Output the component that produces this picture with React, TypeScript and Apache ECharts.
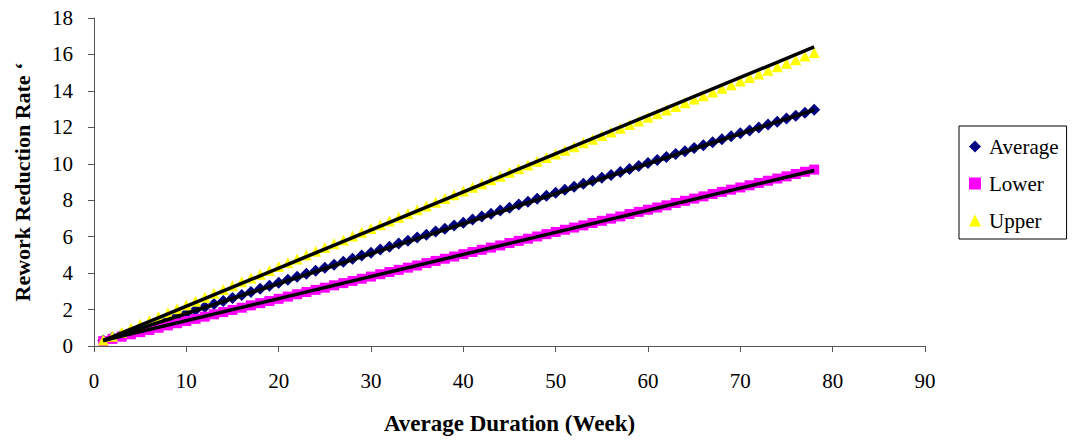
import React, { useEffect, useRef } from "react";
import * as echarts from "echarts";

const weeks = [
  1, 2, 3, 4, 5, 6, 7, 8, 9, 10, 11, 12, 13, 14, 15, 16, 17, 18, 19, 20,
  21, 22, 23, 24, 25, 26, 27, 28, 29, 30, 31, 32, 33, 34, 35, 36, 37, 38, 39, 40,
  41, 42, 43, 44, 45, 46, 47, 48, 49, 50, 51, 52, 53, 54, 55, 56, 57, 58, 59, 60,
  61, 62, 63, 64, 65, 66, 67, 68, 69, 70, 71, 72, 73, 74, 75, 76, 77, 78,
];

const average = [
  0.3, 0.47, 0.63, 0.8, 0.97, 1.14, 1.3, 1.47, 1.64, 1.8, 1.97, 2.14, 2.3, 2.47, 2.64, 2.8, 2.97, 3.14, 3.3, 3.47,
  3.63, 3.8, 3.97, 4.13, 4.3, 4.46, 4.63, 4.79, 4.96, 5.12, 5.29, 5.45, 5.62, 5.78, 5.95, 6.11, 6.28, 6.44, 6.61, 6.77,
  6.94, 7.1, 7.26, 7.43, 7.59, 7.76, 7.92, 8.08, 8.25, 8.41, 8.58, 8.74, 8.9, 9.07, 9.23, 9.39, 9.55, 9.72, 9.88, 10.04,
  10.21, 10.37, 10.53, 10.69, 10.86, 11.02, 11.18, 11.34, 11.51, 11.67, 11.83, 11.99, 12.15, 12.31, 12.48, 12.64, 12.8, 12.96,
];

const lower = [
  0.27, 0.39, 0.51, 0.64, 0.76, 0.88, 1.0, 1.13, 1.25, 1.37, 1.49, 1.61, 1.74, 1.86, 1.98, 2.1, 2.23, 2.35, 2.47, 2.59,
  2.71, 2.84, 2.96, 3.08, 3.2, 3.33, 3.45, 3.57, 3.69, 3.81, 3.94, 4.06, 4.18, 4.3, 4.42, 4.55, 4.67, 4.79, 4.91, 5.04,
  5.16, 5.28, 5.4, 5.52, 5.65, 5.77, 5.89, 6.01, 6.14, 6.26, 6.38, 6.5, 6.62, 6.75, 6.87, 6.99, 7.11, 7.24, 7.36, 7.48,
  7.6, 7.72, 7.85, 7.97, 8.09, 8.21, 8.34, 8.46, 8.58, 8.7, 8.82, 8.95, 9.07, 9.19, 9.31, 9.44, 9.56, 9.68,
];

const upper = [
  0.33, 0.54, 0.76, 0.97, 1.19, 1.4, 1.61, 1.83, 2.04, 2.25, 2.46, 2.67, 2.89, 3.1, 3.31, 3.52, 3.73, 3.94, 4.15, 4.36,
  4.57, 4.78, 4.99, 5.2, 5.41, 5.61, 5.82, 6.03, 6.24, 6.45, 6.65, 6.86, 7.07, 7.27, 7.48, 7.68, 7.89, 8.1, 8.3, 8.51,
  8.71, 8.91, 9.12, 9.32, 9.53, 9.73, 9.93, 10.14, 10.34, 10.54, 10.74, 10.94, 11.15, 11.35, 11.55, 11.75, 11.95, 12.15, 12.35, 12.55,
  12.75, 12.95, 13.15, 13.35, 13.55, 13.74, 13.94, 14.14, 14.34, 14.54, 14.73, 14.93, 15.13, 15.32, 15.52, 15.71, 15.91, 16.11,
];

const trendWeeks = [1, 78];
const averageTrend = [0.3, 12.96];
const lowerTrend = [0.3, 9.63];
const upperTrend = [0.3, 16.41];

const seriesNames = ["Average", "Lower", "Upper"];

const pairs = (xs: number[], ys: number[]) => xs.map((x, i) => [x, ys[i]]);

const FONT = "'Liberation Serif', 'Times New Roman', serif";

export default function App() {
  const ref = useRef<HTMLDivElement>(null);

  useEffect(() => {
    if (!ref.current) return;
    const chart = echarts.init(ref.current, undefined, { renderer: "svg" });
    const axisColor = "#555555";
    chart.setOption({
      animation: false,
      backgroundColor: "#ffffff",
      textStyle: { fontFamily: FONT },
      grid: { left: 94, right: 156, top: 18, bottom: 93, containLabel: false },
      legend: {
        orient: "vertical",
        left: 959,
        top: 126,
        data: [
          { name: seriesNames[0], icon: "diamond", itemStyle: { color: "#000080" } },
          { name: seriesNames[1], icon: "rect", itemStyle: { color: "#ff00ff" } },
          { name: seriesNames[2], icon: "triangle", itemStyle: { color: "#ffff00" } },
        ],
        itemWidth: 12,
        itemHeight: 12,
        itemGap: 16,
        padding: [10, 8, 8, 10],
        borderColor: "#000000",
        borderWidth: 1,
        textStyle: { fontFamily: FONT, fontSize: 21, color: "#000000", padding: [0, 0, 0, 3] },
      },
      xAxis: {
        type: "value",
        min: 0,
        max: 90,
        interval: 10,
        name: "Average Duration (Week)",
        nameLocation: "middle",
        nameGap: 66,
        nameTextStyle: { fontFamily: FONT, fontSize: 23, fontWeight: "bold", color: "#000000" },
        axisLine: { show: true, onZero: false, lineStyle: { color: axisColor, width: 1 } },
        axisTick: { show: true, inside: false, length: 6, lineStyle: { color: axisColor } },
        axisLabel: { fontFamily: FONT, fontSize: 21, color: "#000000", margin: 24 },
        splitLine: { show: false },
      },
      yAxis: {
        type: "value",
        min: 0,
        max: 18,
        interval: 2,
        name: "Rework Reduction Rate \u2018",
        nameLocation: "middle",
        nameGap: 61,
        nameRotate: 90,
        nameTextStyle: { fontFamily: FONT, fontSize: 22, fontWeight: "bold", color: "#000000" },
        axisLine: { show: true, lineStyle: { color: axisColor, width: 1 } },
        axisTick: { show: true, inside: false, length: 6, lineStyle: { color: axisColor } },
        axisLabel: { fontFamily: FONT, fontSize: 21, color: "#000000", margin: 21 },
        splitLine: { show: false },
      },
      series: [
        {
          name: seriesNames[0],
          type: "scatter",
          symbol: "diamond",
          symbolSize: 12,
          itemStyle: { color: "#000080", opacity: 1 },
          data: pairs(weeks, average),
          z: 2,
        },
        {
          name: seriesNames[1],
          type: "scatter",
          symbol: "rect",
          symbolSize: 10,
          itemStyle: { color: "#ff00ff", opacity: 1 },
          data: pairs(weeks, lower),
          z: 2,
        },
        {
          name: seriesNames[2],
          type: "scatter",
          symbol: "triangle",
          symbolSize: 11,
          itemStyle: { color: "#ffff00", opacity: 1 },
          data: pairs(weeks, upper),
          z: 2,
        },
        {
          name: "Average trend",
          type: "line",
          data: pairs(trendWeeks, averageTrend),
          showSymbol: false,
          symbol: "none",
          lineStyle: { color: "#000000", width: 3.5 },
          z: 3,
        },
        {
          name: "Lower trend",
          type: "line",
          data: pairs(trendWeeks, lowerTrend),
          showSymbol: false,
          symbol: "none",
          lineStyle: { color: "#000000", width: 3.5 },
          z: 3,
        },
        {
          name: "Upper trend",
          type: "line",
          data: pairs(trendWeeks, upperTrend),
          showSymbol: false,
          symbol: "none",
          lineStyle: { color: "#000000", width: 3.5 },
          z: 3,
        },
      ],
    });
    return () => chart.dispose();
  }, []);

  return (
    <div
      ref={ref}
      style={{ position: "fixed", left: 0, top: 0, width: 1081, height: 440, background: "#fff" }}
    />
  );
}
